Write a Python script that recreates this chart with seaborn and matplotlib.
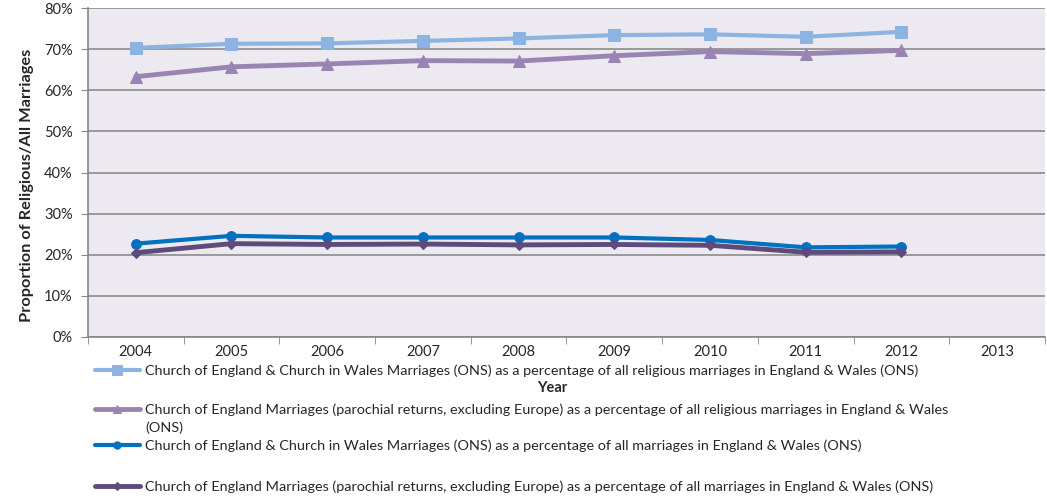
import numpy as np
import pandas as pd
import matplotlib
matplotlib.use("Agg")
import matplotlib.pyplot as plt
import seaborn as sns

years = [2004, 2005, 2006, 2007, 2008, 2009, 2010, 2011, 2012]
all_years = [2004, 2005, 2006, 2007, 2008, 2009, 2010, 2011, 2012, 2013]

cew_religious = [70.3, 71.3, 71.4, 72.0, 72.6, 73.4, 73.6, 73.0, 74.2]
ce_parochial_religious = [63.3, 65.7, 66.4, 67.2, 67.1, 68.4, 69.4, 68.9, 69.7]
cew_all = [22.7, 24.6, 24.2, 24.2, 24.2, 24.2, 23.6, 21.8, 22.0]
ce_parochial_all = [20.5, 22.7, 22.5, 22.6, 22.4, 22.5, 22.3, 20.6, 20.7]

labels = [
    "Church of England & Church in Wales Marriages (ONS) as a percentage of all religious marriages in England & Wales (ONS)",
    "Church of England Marriages (parochial returns, excluding Europe) as a percentage of all religious marriages in England & Wales",
    "Church of England & Church in Wales Marriages (ONS) as a percentage of all marriages in England & Wales (ONS)",
    "Church of England Marriages (parochial returns, excluding Europe) as a percentage of all marriages in England & Wales (ONS)",
]
colors = ["#8DB3E2", "#9984B4", "#0070C0", "#5F4A7C"]
markers = ["s", "^", "o", "D"]
msizes = [9, 8, 7, 5]
lwidths = [3, 3.5, 3, 3.5]

sns.set_style("darkgrid", {"axes.facecolor": "#ECEAF0", "grid.color": "#8C8C8C"})
plt.rcParams["font.family"] = ["Lato", "DejaVu Sans"]

fig = plt.figure(figsize=(10.47, 5), dpi=100)
ax = fig.add_axes([0.084, 0.326, 0.914, 0.658])

series = [cew_religious, ce_parochial_religious, cew_all, ce_parochial_all]
handles = []
for vals, lab, c, m, ms, lw in zip(series, labels, colors, markers, msizes, lwidths):
    df = pd.DataFrame({"year": years, "pct": vals})
    sns.lineplot(data=df, x="year", y="pct", ax=ax, color=c, marker=m,
                 markersize=ms, markeredgecolor=c, linewidth=lw, label=lab)
    handles.append(ax.lines[-1])
ax.get_legend().remove()

ax.set_xlim(2003.5, 2013.4)
ax.set_ylim(0, 80)
ax.set_xticks(all_years)
ax.set_xticklabels([str(y) for y in all_years], fontsize=10.5)
ax.set_xticks(np.arange(2003.5, 2013.6, 1), minor=True)
ax.tick_params(axis="x", which="major", length=0, pad=6)
ax.tick_params(axis="x", which="minor", length=5, color="#868686", direction="out", bottom=True)
ax.set_yticks(range(0, 81, 10))
ax.set_yticklabels([f"{v}%" for v in range(0, 81, 10)], fontsize=10.5)
ax.tick_params(axis="y", length=5, color="#868686", direction="out", left=True, pad=6)
ax.grid(axis="x", visible=False)
ax.grid(axis="y", color="#8C8C8C", linewidth=1.2)
for side in ["left", "bottom"]:
    ax.spines[side].set_visible(True)
    ax.spines[side].set_color("#868686")
    ax.spines[side].set_linewidth(1.2)
ax.spines["top"].set_visible(False)
ax.spines["right"].set_visible(False)

ax.set_xlabel("")
ax.set_ylabel("Proportion of Religious/All Marriages", fontsize=11.8, fontweight="bold")
ax.yaxis.set_label_coords(-0.056, 0.46)
fig.text(0.527, 0.224, "Year", ha="center", va="center", fontsize=10.5, fontweight="bold")

# one legend per entry so the rows sit where the reference puts them
leg_y = [371, 410, 446, 487]
for h, lab, y in zip(handles, labels, leg_y):
    fig.legend([h], [lab], loc="center left", bbox_to_anchor=(95 / 1047, 1 - y / 500),
               frameon=False, fontsize=10.4, handlelength=3.1, handletextpad=0.35,
               markerscale=0.75, borderpad=0, borderaxespad=0)
fig.text(145 / 1047, 1 - 428 / 500, "(ONS)", ha="left", va="center", fontsize=10.4)

fig.savefig("out.png", dpi=100, facecolor="white")
